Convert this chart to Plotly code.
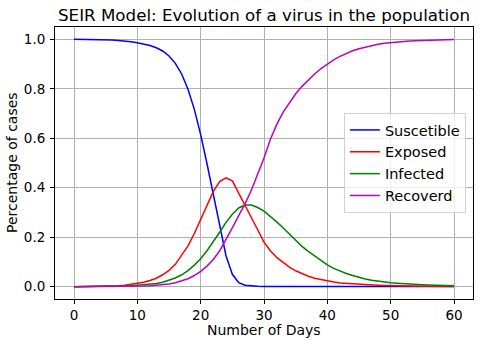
import plotly.graph_objects as go

days = list(range(61))

susceptible = [1.000, 1.000, 1.000, 0.9995, 0.999, 0.998, 0.997, 0.995, 0.993, 0.990,
               0.986, 0.981, 0.975, 0.966, 0.953, 0.933, 0.903, 0.860, 0.798, 0.717,
               0.615, 0.497, 0.375, 0.245, 0.125, 0.050, 0.016, 0.006, 0.003, 0.002,
               0.001, 0.001, 0.001, 0.001, 0.001, 0.001, 0.001, 0.001, 0.001, 0.001,
               0.0008, 0.0008, 0.0008, 0.0008, 0.0008, 0.0007, 0.0007, 0.0007, 0.0007, 0.0007,
               0.0006, 0.0006, 0.0006, 0.0006, 0.0006, 0.0005, 0.0005, 0.0005, 0.0005, 0.0005,
               0.0005]

exposed = [0.000, 0.0003, 0.0006, 0.001, 0.0015, 0.002, 0.003, 0.004, 0.006, 0.009,
           0.013, 0.018, 0.025, 0.034, 0.048, 0.066, 0.090, 0.125, 0.165, 0.215,
           0.270, 0.330, 0.385, 0.425, 0.440, 0.428, 0.380, 0.330, 0.280, 0.230,
           0.180, 0.145, 0.118, 0.097, 0.079, 0.064, 0.052, 0.042, 0.034, 0.028,
           0.023, 0.019, 0.015, 0.013, 0.011, 0.009, 0.008, 0.007, 0.006, 0.005,
           0.004, 0.0035, 0.003, 0.0025, 0.002, 0.0018, 0.0015, 0.0013, 0.0011, 0.001,
           0.0009]

infected = [0.000, 0.0001, 0.0003, 0.0005, 0.0008, 0.001, 0.0015, 0.002, 0.003, 0.004,
            0.006, 0.008, 0.010, 0.013, 0.018, 0.025, 0.035, 0.048, 0.065, 0.087,
            0.113, 0.145, 0.180, 0.220, 0.260, 0.293, 0.318, 0.330, 0.330, 0.320,
            0.305, 0.285, 0.262, 0.238, 0.212, 0.185, 0.163, 0.143, 0.125, 0.105,
            0.088, 0.074, 0.062, 0.053, 0.045, 0.037, 0.031, 0.026, 0.022, 0.019,
            0.016, 0.014, 0.012, 0.010, 0.009, 0.008, 0.007, 0.006, 0.005, 0.004,
            0.004]

recovered = [0.000, 0.000, 0.0001, 0.0001, 0.0002, 0.0003, 0.0004, 0.0006, 0.0009, 0.0013,
             0.002, 0.003, 0.004, 0.006, 0.008, 0.011, 0.016, 0.023, 0.032, 0.045,
             0.062, 0.083, 0.110, 0.145, 0.190, 0.238, 0.287, 0.335, 0.390, 0.455,
             0.520, 0.595, 0.655, 0.705, 0.745, 0.780, 0.810, 0.836, 0.860, 0.882,
             0.900, 0.917, 0.931, 0.943, 0.954, 0.962, 0.969, 0.975, 0.980, 0.984,
             0.987, 0.989, 0.991, 0.993, 0.994, 0.995, 0.996, 0.997, 0.998, 0.998,
             0.999]

series_names = ["Suscetible", "Exposed", "Infected", "Recoverd"]
series_values = [susceptible, exposed, infected, recovered]
series_colors = ["#0000ff", "#ff0000", "#008000", "#bf00bf"]

x_ticks = [0, 10, 20, 30, 40, 50, 60]
y_ticks = [0.0, 0.2, 0.4, 0.6, 0.8, 1.0]

FONT = "DejaVu Sans"

fig = go.Figure()
for name, vals, col in zip(series_names, series_values, series_colors):
    fig.add_trace(go.Scatter(x=days, y=vals, mode="lines", name=name,
                             line=dict(color=col, width=1.5)))

axis_common = dict(showline=True, mirror=True, linecolor="black", linewidth=1,
                   showgrid=True, gridcolor="#b0b0b0", gridwidth=0.8,
                   ticks="outside", ticklen=4, tickcolor="black", tickwidth=1,
                   zeroline=False, automargin=False,
                   tickfont=dict(family=FONT, size=13.5, color="black"))

fig.update_xaxes(range=[-3, 63], tickvals=x_ticks, **axis_common)
fig.update_yaxes(range=[-0.05, 1.05], tickvals=y_ticks, tickformat=".1f",
                 ticklabelstandoff=2, **axis_common)

fig.add_annotation(text="Number of Days", xref="paper", yref="paper", x=0.5, y=0,
                   yshift=-31, xanchor="center", yanchor="middle", showarrow=False,
                   font=dict(family=FONT, size=14, color="black"))
fig.add_annotation(text="Percentage of cases", xref="paper", yref="paper", x=0, y=0.5,
                   xshift=-43, xanchor="center", yanchor="middle", textangle=-90,
                   showarrow=False, font=dict(family=FONT, size=14, color="black"))

fig.update_layout(
    width=480, height=345,
    margin=dict(l=55, r=7, t=27, b=46),
    paper_bgcolor="white", plot_bgcolor="white",
    font=dict(family=FONT, color="black"),
    title=dict(text="SEIR Model: Evolution of a virus in the population",
               font=dict(family=FONT, size=16.7, color="black"),
               x=0.5, xref="paper", xanchor="center",
               y=1 - 15 / 345, yref="container", yanchor="middle"),
    legend=dict(x=0.983, xanchor="right", y=0.5, yanchor="middle",
                bgcolor="rgba(255,255,255,0.8)", bordercolor="#d0d0d0", borderwidth=1,
                font=dict(family=FONT, size=14.5, color="black"),
                itemwidth=30, tracegroupgap=0),
    showlegend=True,
    hovermode=False,
)

# remove the browser's default 8px body margin so the figure sits at the page corner
fig.write_html("out.html",
               config={"displayModeBar": False, "staticPlot": False},
               post_script="document.body.style.margin='0';document.body.style.overflow='hidden';")
